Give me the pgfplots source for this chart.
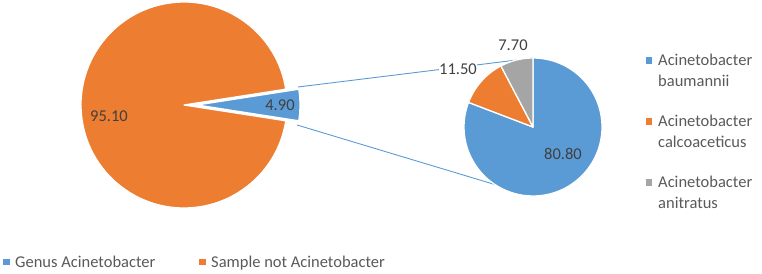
\documentclass[border=0pt]{standalone}
\usepackage{pgfplots}
\pgfplotsset{compat=1.18}
\usepackage{fontspec}
\setmainfont{Carlito}
\definecolor{cblue}{HTML}{5B9BD5}
\definecolor{corange}{HTML}{ED7D31}
\definecolor{cgray}{HTML}{A5A5A5}
\definecolor{ctext}{HTML}{595959}
\definecolor{cdark}{HTML}{404040}
\tikzset{lbl/.style={font=\fontsize{16.5}{20}\selectfont, text=ctext},
         dlbl/.style={font=\fontsize{16.5}{20}\selectfont, text=cdark}}
% sector: cx, cy, r, start angle, end angle, colour
\newcommand{\sector}[6]{%
  \fill[#6, draw=white, line width=1.3pt, line join=round] (axis cs:#1,#2) -- ++({#4}:#3pt) arc[start angle={#4}, end angle={#5}, radius=#3pt] -- cycle;}
\begin{document}
\begin{tikzpicture}
\begin{axis}[name=ax, width=762pt, height=273pt, scale only axis,
  xmin=0, xmax=762, ymin=0, ymax=273, hide axis, clip=false]
% connector lines
\draw[cblue, line width=0.9pt] (axis cs:298,186) -- (axis cs:533,215);
\draw[cblue, line width=0.9pt] (axis cs:297,148) -- (axis cs:533,77);
% main pie: Genus Acinetobacter 4.90, Sample not Acinetobacter 95.10
\sector{184}{168}{103}{4.90*1.8}{4.90*1.8+95.10*3.6}{corange}
\sector{197}{168}{103}{-4.90*1.8}{4.90*1.8}{cblue}
% secondary pie: baumannii 80.80, calcoaceticus 11.50, anitratus 7.70
\sector{533}{146}{69}{90}{90-80.80*3.6}{cblue}
\sector{533}{146}{69}{90-80.80*3.6}{90-(80.80+11.50)*3.6}{corange}
\sector{533}{146}{69}{90-(80.80+11.50)*3.6}{90-(80.80+11.50+7.70)*3.6}{cgray}
% data labels
\node[dlbl] at (axis cs:109,157) {95.10};
\node[dlbl] at (axis cs:280,168) {4.90};
\node[dlbl] at (axis cs:563,119) {80.80};
\node[dlbl, fill=white, inner sep=0.5pt] at (axis cs:458,204) {11.50};
\node[dlbl] at (axis cs:513,228) {7.70};
% right legend
\fill[cblue] (axis cs:645.5,209) rectangle (axis cs:652,215.5);
\node[lbl, anchor=base west, inner sep=0pt] at (axis cs:658,207) {Acinetobacter};
\node[lbl, anchor=base west, inner sep=0pt] at (axis cs:658,186) {baumannii};
\fill[corange] (axis cs:645.5,148) rectangle (axis cs:652,154.5);
\node[lbl, anchor=base west, inner sep=0pt] at (axis cs:658,146) {Acinetobacter};
\node[lbl, anchor=base west, inner sep=0pt] at (axis cs:658,125) {calcoaceticus};
\fill[cgray] (axis cs:645.5,87) rectangle (axis cs:652,93.5);
\node[lbl, anchor=base west, inner sep=0pt] at (axis cs:658,85) {Acinetobacter};
\node[lbl, anchor=base west, inner sep=0pt] at (axis cs:658,64) {anitratus};
% bottom legend
\fill[cblue] (axis cs:3,8) rectangle (axis cs:9.5,14.5);
\node[lbl, anchor=base west, inner sep=0pt] at (axis cs:15,6) {Genus Acinetobacter};
\fill[corange] (axis cs:199,8) rectangle (axis cs:205.5,14.5);
\node[lbl, anchor=base west, inner sep=0pt] at (axis cs:211,6) {Sample not Acinetobacter};
\end{axis}
\pgfresetboundingbox
\path (ax.south west) rectangle (ax.north east);
\end{tikzpicture}
\end{document}
